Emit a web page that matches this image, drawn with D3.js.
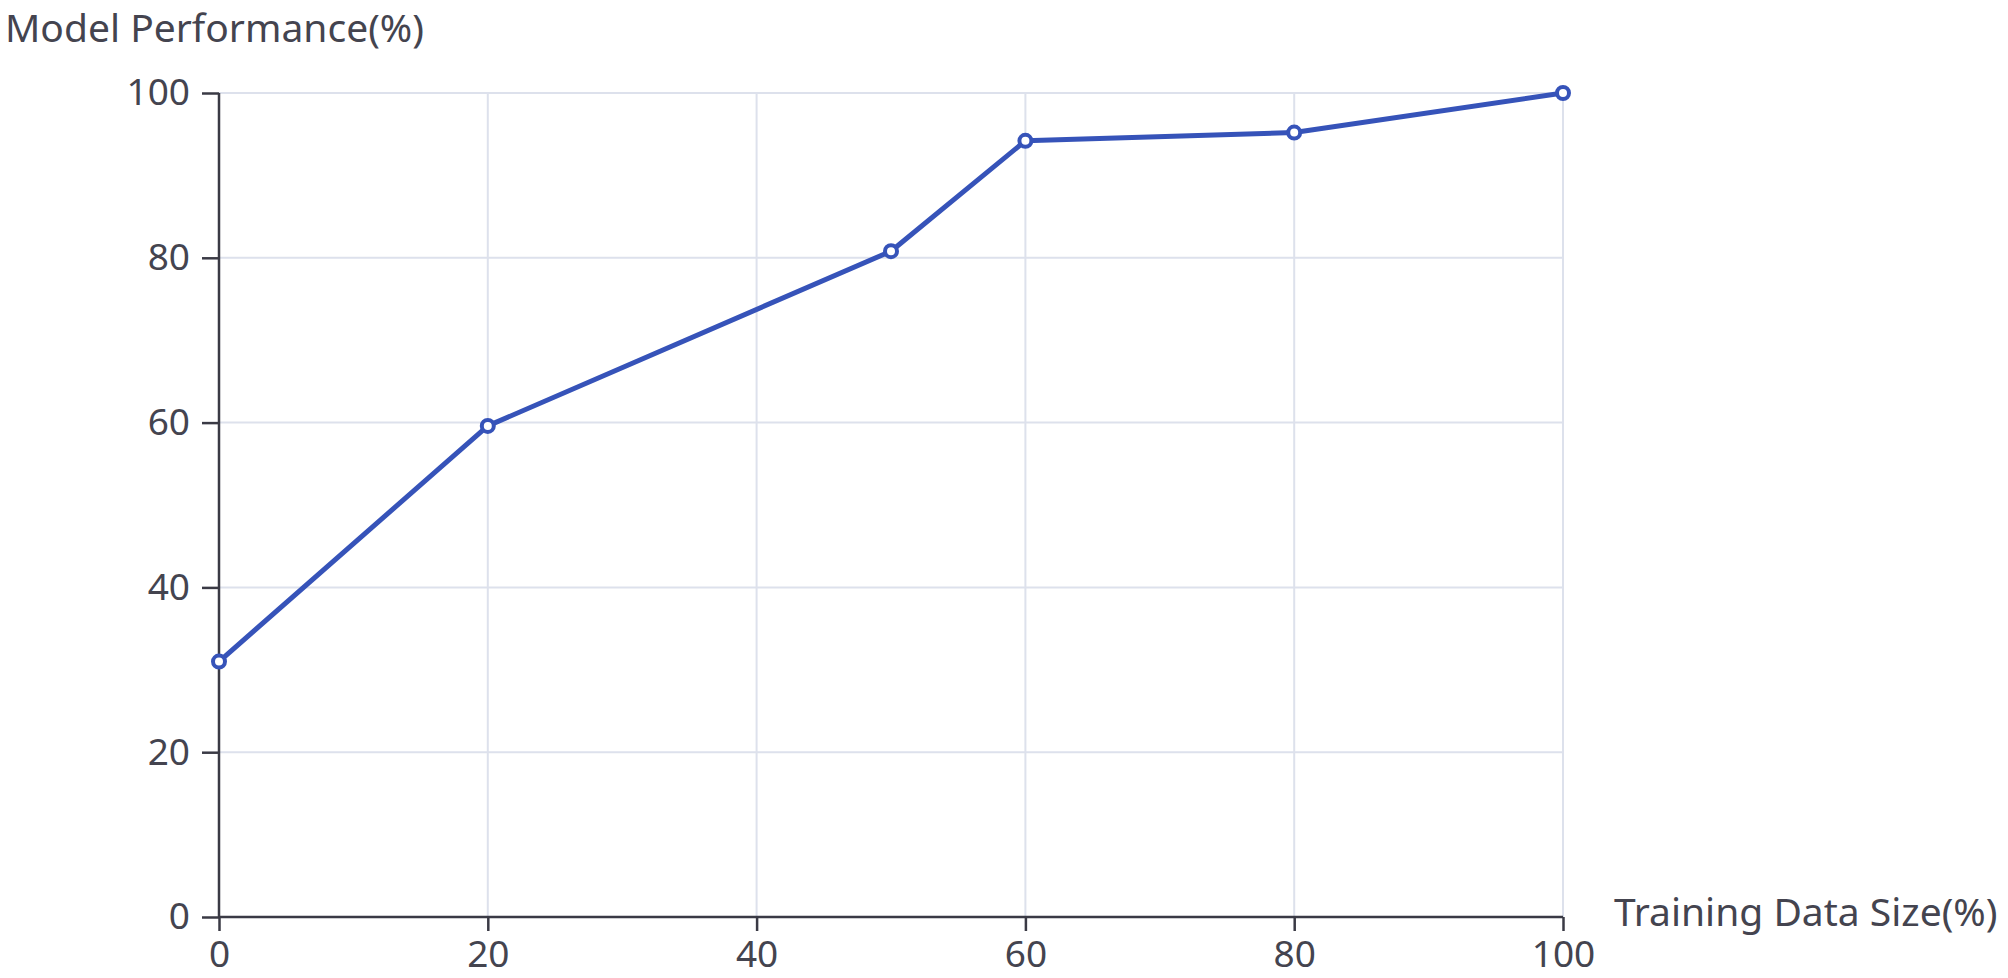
<!DOCTYPE html>
<html lang="en">
<head>
  <meta charset="utf-8">
  <title>Model Performance</title>
  <style>
    body { margin: 0; background: #fff; }
    svg text { font-family: "Noto Sans", "Open Sans", sans-serif; fill: #44444f; }
  </style>
</head>
<body>
  <script src="https://cdn.jsdelivr.net/npm/d3@7"></script>
  <script>

    // data
    var trainSize = [0, 20, 50, 60, 80, 100];
    var performance = [31, 59.6, 80.8, 94.2, 95.2, 100];
    var xTicks = [0, 20, 40, 60, 80, 100];
    var yTicks = [0, 20, 40, 60, 80, 100];

    var w = 2008;
    var h = 978;
    var mLeft = 219, mRight = 1563, mTop = 93, mBottom = 917;

    var svg = d3.select("body").append("svg")
      .attr("width", w)
      .attr("height", h);

    var x = d3.scaleLinear().domain([0, 100]).range([mLeft, mRight]);
    var y = d3.scaleLinear().domain([0, 100]).range([mBottom, mTop]);

    // grid
    svg.append("g").selectAll("line")
      .data(xTicks.slice(1))
      .enter().append("line")
      .attr("x1", d => x(d)).attr("x2", d => x(d))
      .attr("y1", mTop).attr("y2", mBottom)
      .attr("stroke", "#dde1ec").attr("stroke-width", 2);

    svg.append("g").selectAll("line")
      .data(yTicks.slice(1))
      .enter().append("line")
      .attr("x1", mLeft).attr("x2", mRight)
      .attr("y1", d => y(d)).attr("y2", d => y(d))
      .attr("stroke", "#dde1ec").attr("stroke-width", 2);

    // axes
    var xAxis = d3.axisBottom(x).tickValues(xTicks).tickSize(14).tickPadding(10);
    var yAxis = d3.axisLeft(y).tickValues(yTicks).tickSize(17).tickPadding(12);

    var gx = svg.append("g").attr("transform", "translate(0," + mBottom + ")").call(xAxis);
    var gy = svg.append("g").attr("transform", "translate(" + mLeft + ",0)").call(yAxis);

    [gx, gy].forEach(function(g){
      g.select(".domain").attr("stroke", "#3a3a45").attr("stroke-width", 2.5);
      g.selectAll(".tick line").attr("stroke", "#3a3a45").attr("stroke-width", 2.5);
      g.selectAll(".tick text").style("font-size", "37px").attr("fill", "#44444f");
    });
    gx.select(".domain").attr("d", "M" + mLeft + ",0H" + mRight);
    gy.select(".domain").attr("d", "M0," + mBottom + "V" + mTop);

    // axis titles
    svg.append("text")
      .attr("x", 5).attr("y", 42)
      .style("font-size", "39px")
      .text("Model Performance(%)");

    svg.append("text")
      .attr("x", 1614).attr("y", 926)
      .style("font-size", "39px")
      .text("Training Data Size(%)");

    // line
    var pts = trainSize.map(function(d, i){ return [d, performance[i]]; });

    svg.append("path")
      .datum(pts)
      .attr("fill", "none")
      .attr("stroke", "#3653b9")
      .attr("stroke-width", 5)
      .attr("stroke-linejoin", "round")
      .attr("d", d3.line().x(d => x(d[0])).y(d => y(d[1])));

    svg.selectAll("circle")
      .data(pts)
      .enter()
      .append("circle")
      .attr("cx", d => x(d[0]))
      .attr("cy", d => y(d[1]))
      .attr("r", 6)
      .attr("fill", "#fff")
      .attr("stroke", "#3653b9")
      .attr("stroke-width", 4);

  </script>
</body>
</html>
